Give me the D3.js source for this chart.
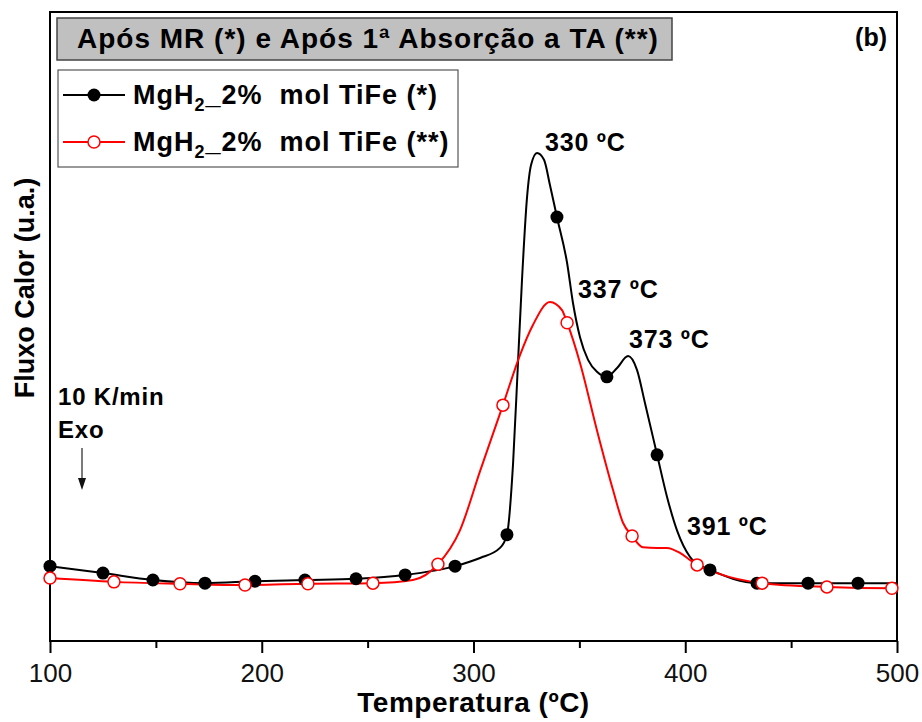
<!DOCTYPE html>
<html><head><meta charset="utf-8">
<script src="https://cdn.jsdelivr.net/npm/d3@7"></script>
<style>
body{margin:0;background:#fff;}
svg text{font-family:"Liberation Sans",Arial,sans-serif;}
</style></head>
<body><svg id="c" width="922" height="722"></svg>
<script>
// ---- data ----
const seriesNames = ["MgH2_2% mol TiFe (*)", "MgH2_2% mol TiFe (**)"];
// black curve (*) : temperature (ºC) and heat flow (a.u.)
const tempA = [100,125,148.6,173.2,196.8,220.4,244.5,267.7,291.3,303.1,312.5,315.8,318.7,321.0,322.9,325.3,327.2,330,333.3,336.1,339.4,344.2,347.0,350.3,354.1,358.3,363.0,367.8,373.0,377.2,381.0,386.7,391.4,396.1,402.2,408.4,411.7,433.9,458,481.6,500];
const fluxA = [11.9,10.8,9.7,9.2,9.5,9.7,9.9,10.5,11.9,13.2,14.8,16.9,28.3,44.2,57.4,70.6,75.7,77.6,76.5,72.5,67.4,60.1,53.7,48.3,44.7,42.8,42.0,43.4,45.3,43.1,37.8,29.6,22.9,17.6,13.4,11.8,11.3,9.2,9.2,9.2,9.2];
const markTempA = [100,125,148.6,173.2,196.8,220.4,244.5,267.7,291.3,315.8,339.4,363.0,386.7,411.7,433.9,458,481.6];
const markFluxA = [11.9,10.8,9.7,9.2,9.5,9.7,9.9,10.5,11.9,16.9,67.4,42.0,29.6,11.3,9.2,9.2,9.2];
// red curve (**)
const tempB = [100,130.2,161.4,192.1,221.8,252.5,271.4,283.2,293.6,303.1,313.9,322.0,328.0,336.1,341.8,344.2,350.3,358.3,365.9,370.6,374.9,380.0,386.7,391.4,397.5,402.2,405.6,415.0,436.3,466.9,497.6,500];
const fluxB = [10.0,9.4,9.1,8.9,9.1,9.2,9.7,12.2,17.6,27.0,37.5,45.5,50.2,53.9,52.6,50.6,44.2,33.5,24.0,18.8,16.7,14.9,14.8,14.8,14.0,12.9,12.1,10.8,9.2,8.6,8.4,8.4];
const markTempB = [100,130.2,161.4,192.1,221.8,252.5,283.2,313.9,344.2,374.9,405.6,436.3,466.9,497.6];
const markFluxB = [10.0,9.4,9.1,8.9,9.1,9.2,12.2,37.5,50.6,16.7,12.1,9.2,8.6,8.4];
const majorTicks = [100,200,300,400,500];
const minorTicks = [150,250,350,450];
const peakLabels = ["330 ºC","337 ºC","373 ºC","391 ºC"];

const svg = d3.select("#c");
const L=50,R=897,T=12,B=641;
const x = d3.scaleLinear().domain([100,500]).range([L,R]);
const y = d3.scaleLinear().domain([0,100]).range([B,T]);

// axes
svg.append("g").attr("transform",`translate(0,${B})`)
  .call(d3.axisBottom(x).tickValues(majorTicks).tickSize(12).tickPadding(11).tickFormat(d3.format("d")))
  .call(g=>{g.select(".domain").remove();
    g.selectAll("line").attr("stroke","#000").attr("stroke-width",2);
    g.selectAll("text").attr("font-size",26).attr("fill","#111").style("font-family","Liberation Sans");});
svg.append("g").attr("transform",`translate(0,${B})`)
  .call(d3.axisBottom(x).tickValues(minorTicks).tickSize(7).tickFormat(""))
  .call(g=>{g.select(".domain").remove();g.selectAll("line").attr("stroke","#000").attr("stroke-width",2);});
svg.append("rect").attr("x",L).attr("y",T).attr("width",R-L).attr("height",B-T)
  .attr("fill","none").attr("stroke","#000").attr("stroke-width",2);

// curves
const line = d3.line().x(d=>x(d[0])).y(d=>y(d[1])).curve(d3.curveMonotoneX);
const dA = tempA.map((t,i)=>[t,fluxA[i]]);
const dB = tempB.map((t,i)=>[t,fluxB[i]]);
svg.append("path").attr("d",line(dA)).attr("fill","none").attr("stroke","#000").attr("stroke-width",2);
svg.append("path").attr("d",line(dB)).attr("fill","none").attr("stroke","#ff0000").attr("stroke-width",2);
svg.append("g").selectAll("circle").data(markTempA.map((t,i)=>[t,markFluxA[i]])).join("circle")
  .attr("cx",d=>x(d[0])).attr("cy",d=>y(d[1])).attr("r",6.5).attr("fill","#000");
svg.append("g").selectAll("circle").data(markTempB.map((t,i)=>[t,markFluxB[i]])).join("circle")
  .attr("cx",d=>x(d[0])).attr("cy",d=>y(d[1])).attr("r",6).attr("fill","#fff").attr("stroke","#ff0000").attr("stroke-width",1.5);

// axis titles
svg.append("text").attr("x",(L+R)/2).attr("y",712).attr("text-anchor","middle")
  .attr("font-size",28).attr("font-weight","bold").attr("letter-spacing",0.5).text("Temperatura (ºC)");
svg.append("text").attr("transform","translate(34,288) rotate(-90)").attr("text-anchor","middle")
  .attr("font-size",27).attr("font-weight","bold").text("Fluxo Calor (u.a.)");

// title box
svg.append("rect").attr("x",57).attr("y",18).attr("width",615).attr("height",42)
  .attr("fill","#c0c0c0").attr("stroke","#444").attr("stroke-width",1.5);
svg.append("text").attr("x",77).attr("y",48).attr("font-size",28).attr("font-weight","bold")
  .attr("letter-spacing",1.0).text("Após MR (*) e Após 1ª Absorção a TA (**)");
svg.append("text").attr("x",887).attr("y",46).attr("text-anchor","end").attr("font-size",25).attr("font-weight","bold").text("(b)");

// legend
svg.append("rect").attr("x",58).attr("y",70).attr("width",400).attr("height",97)
  .attr("fill","#fff").attr("stroke","#555").attr("stroke-width",1.2);
const legY=[95,142], legC=["#000","#ff0000"];
seriesNames.forEach((nm,i)=>{
  svg.append("line").attr("x1",63).attr("x2",125).attr("y1",legY[i]).attr("y2",legY[i]).attr("stroke",legC[i]).attr("stroke-width",2);
  svg.append("circle").attr("cx",94).attr("cy",legY[i]).attr("r",i?6:6.5).attr("fill",i?"#fff":"#000").attr("stroke",i?"#ff0000":"none").attr("stroke-width",1.5);
  const t = svg.append("text").attr("x",133).attr("y",legY[i]+9).attr("font-size",27).attr("font-weight","bold").attr("letter-spacing",1.0);
  const parts = nm.split("2_");
  t.append("tspan").text(parts[0]);
  t.append("tspan").attr("font-size",18).attr("dy",7).text("2");
  t.append("tspan").attr("dy",-7).text("_"+parts[1].replace("% mol","%\u00a0 mol"));
});

// peak labels
const lblPos=[[545,151],[578,298],[629,348],[687,535]];
peakLabels.forEach((s,i)=>{
  svg.append("text").attr("x",lblPos[i][0]).attr("y",lblPos[i][1]).attr("font-size",25).attr("font-weight","bold").attr("letter-spacing",0.8).text(s);
});
// annotation
svg.append("text").attr("x",58).attr("y",405).attr("font-size",24).attr("font-weight","bold").attr("letter-spacing",0.8).text("10 K/min");
svg.append("text").attr("x",58).attr("y",438).attr("font-size",24).attr("font-weight","bold").attr("letter-spacing",0.8).text("Exo");
svg.append("line").attr("x1",82).attr("x2",82).attr("y1",448).attr("y2",480).attr("stroke","#222").attr("stroke-width",1.2);
svg.append("path").attr("d","M78,478 L86,478 L82,490 Z").attr("fill","#111");
</script></body></html>
